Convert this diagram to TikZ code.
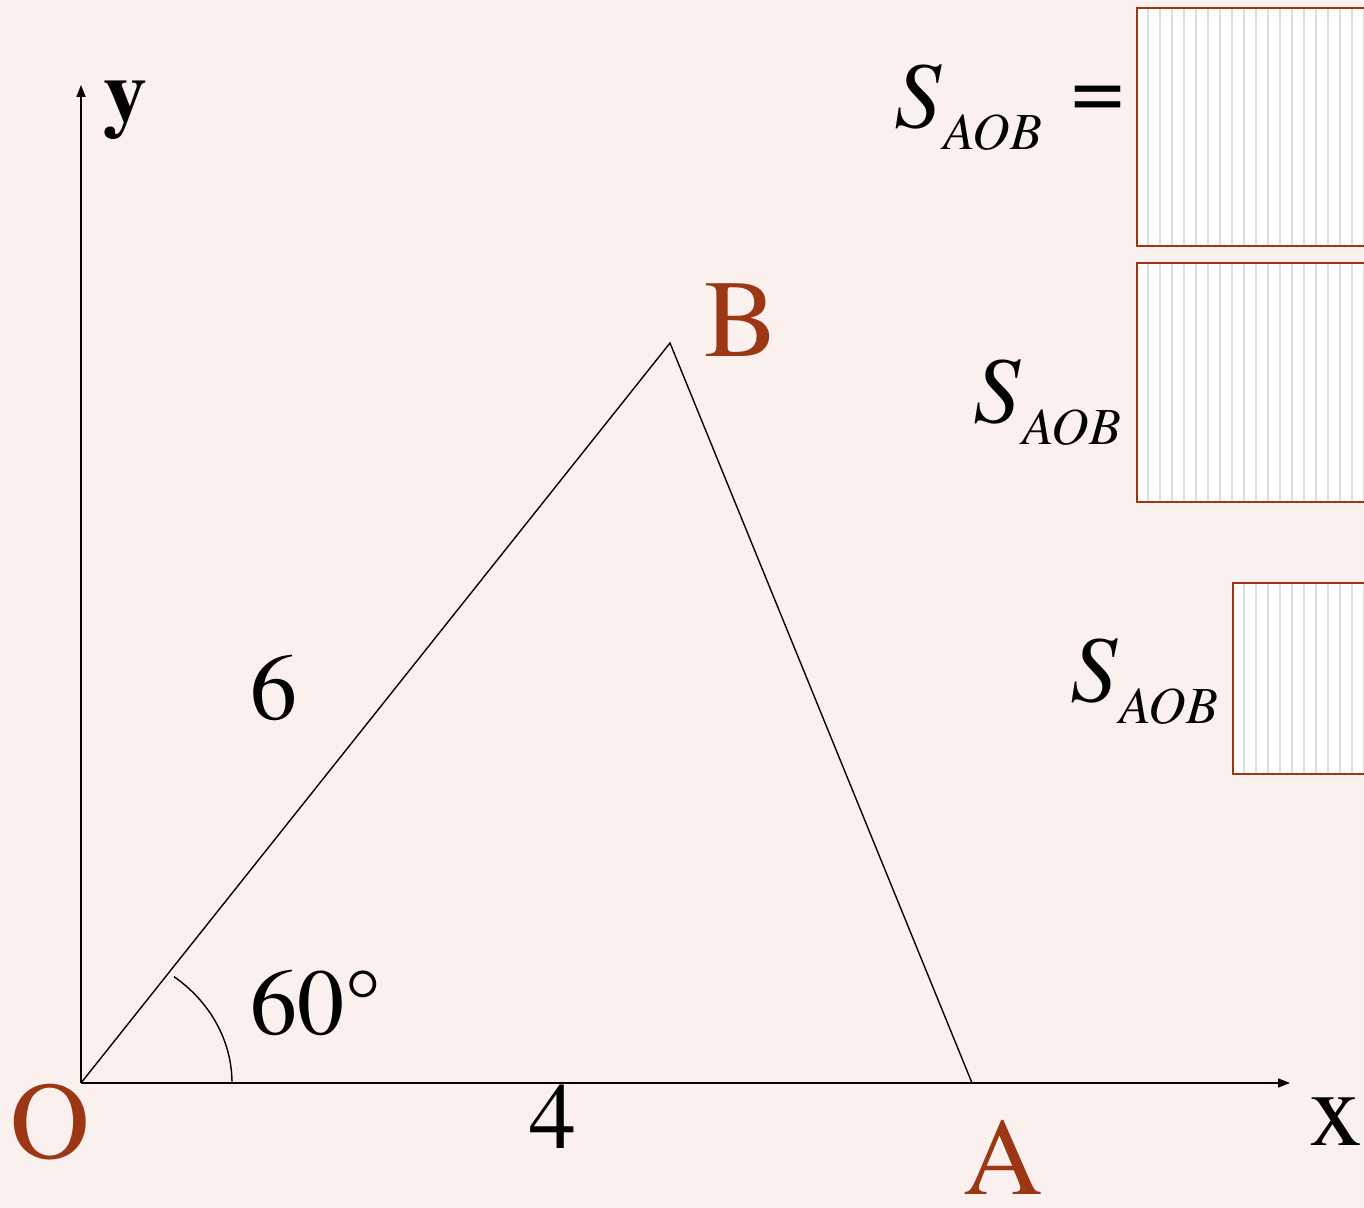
\documentclass[tikz,border=0pt]{standalone}
\usepackage{fontspec}
\setmainfont{texgyretermes}[Extension=.otf, UprightFont=*-regular, ItalicFont=*-italic, BoldFont=*-bold]
\usepackage{tikz}
\usetikzlibrary{positioning,arrows.meta,calc}
\definecolor{paper}{RGB}{250,240,237}
\definecolor{rust}{RGB}{155,55,20}
\definecolor{stripe}{RGB}{222,222,222}
\tikzset{
  axisline/.style={-{Triangle[length=6pt, width=4.5pt]}, line width=0.8pt},
  edge/.style={line width=0.7pt},
  pointlabel/.style={text=rust, inner sep=0pt, font=\fontsize{55}{60}\selectfont},
  axislabel/.style={inner sep=0pt, font=\fontsize{53}{60}\selectfont},
  numlabel/.style={inner sep=0pt, font=\fontsize{47}{52}\selectfont},
  arealabel/.style={inner sep=0pt, anchor=base west, font=\fontsize{47}{52}\selectfont\itshape},
  answerbox/.style={draw=rust, line width=1pt, fill=white}
}
\newcommand{\areaS}{S\hspace{1pt}\raisebox{-11pt}{\fontsize{26}{30}\selectfont AOB}}

\begin{document}
\begin{tikzpicture}[x=0.5pt, y=0.5pt]
  \useasboundingbox (0,0) rectangle (1364,1208);
  \clip (0,0) rectangle (1364,1208);
  \fill[paper] (0,0) rectangle (1364,1208);
  % points
  \coordinate (O) at (81,125);
  \coordinate (A) at (972,125);
  \coordinate (B) at (670,865);
  \coordinate (xend) at (1290,125);
  \coordinate (yend) at (81,1123);
  % axes and triangle
  \draw[axisline] (O) -- (xend);
  \draw[axisline] (O) -- (yend);
  \draw[edge] (O) -- (B) -- (A);
  \draw[edge] (232,125) arc[start angle=0, end angle=52, x radius=151, y radius=135];
  % labels
  \node[axislabel, font=\fontsize{44}{50}\selectfont\bfseries] (ylab) at (125,1208-110) {y};
  \node[axislabel] (xlab) at (1336,1208-1122) {x};
  \node[pointlabel] (olab) at (50,1208-1122) {O};
  \node[pointlabel] (alab) at (1003,1208-1157) {A};
  \node[pointlabel] (blab) at (741,1208-320) {B};
  \node[numlabel] (six) at (274,1208-688) {6};
  \node[numlabel] (four) at (553,1208-1117) {4};
  \node[numlabel] (ang) at (316,1208-1003) {60°};
  % answer boxes
  \draw[answerbox] (1137,1200) rectangle (1380,962);
  \draw[answerbox] (1137,945) rectangle (1380,706);
  \draw[answerbox] (1233,625) rectangle (1380,434);
  \foreach \i in {1,...,19} {
    \draw[stripe, line width=0.8pt] (1137+12*\i-1,1199) -- (1137+12*\i-1,963);
    \draw[stripe, line width=0.8pt] (1137+12*\i-1,944) -- (1137+12*\i-1,707);
  }
  \foreach \i in {1,...,11} {
    \draw[stripe, line width=0.8pt] (1233+12*\i-1,624) -- (1233+12*\i-1,435);
  }
  \draw[answerbox, fill=none] (1137,1200) rectangle (1380,962);
  \draw[answerbox, fill=none] (1137,945) rectangle (1380,706);
  \draw[answerbox, fill=none] (1233,625) rectangle (1380,434);
  \node[arealabel] (sone) at (894,1208-128) {\areaS};
  \node[numlabel] (eq) at (1098,1208-103) {=};
  \node[arealabel] (stwo) at (973,1208-423) {\areaS};
  \node[arealabel] (sthree) at (1070,1208-702) {\areaS};
\end{tikzpicture}
\end{document}
